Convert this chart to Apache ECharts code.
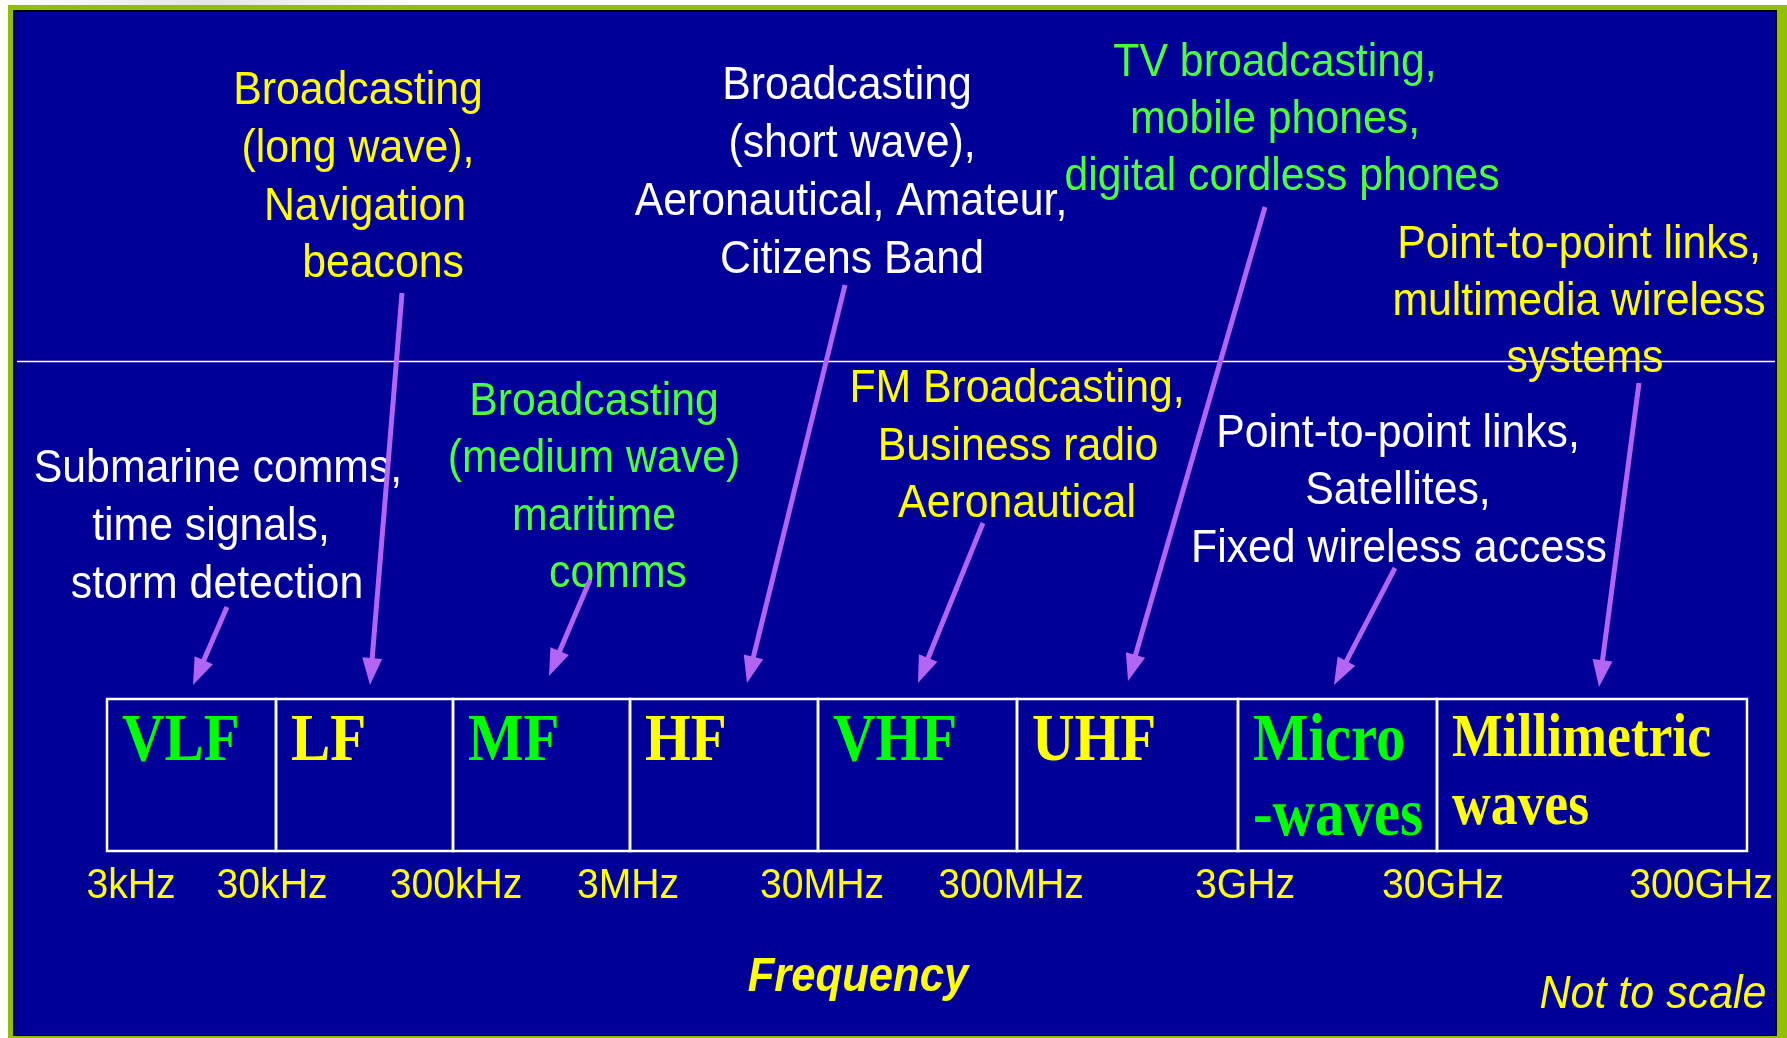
<!DOCTYPE html>
<html>
<head>
<meta charset="utf-8">
<title>Radio spectrum</title>
<style>
  html, body { margin: 0; padding: 0; background: #ffffff; }
  #chart { width: 1787px; height: 1038px; }
</style>
<script src="https://cdn.jsdelivr.net/npm/echarts@6/dist/echarts.min.js"></script>
</head>
<body>
<div id="chart"></div>
<script>
// ---- data (positions are in the slide's own units, not to scale) ----
const bandNames = ['VLF', 'LF', 'MF', 'HF', 'VHF', 'UHF', 'Micro\n-waves', 'Millimetric\nwaves'];
const bandEdges = [107, 276, 453, 630, 818, 1017, 1238, 1437, 1747];

const freqLabels = ['3kHz', '30kHz', '300kHz', '3MHz', '30MHz', '300MHz', '3GHz', '30GHz', '300GHz'];
const freqLabelX = [131, 272, 456, 628, 822, 1011, 1245, 1443, 1701];

// annotation lines: text, centre, baseline, colour group (w = white, y = yellow, g = green)
const noteText = [
    'Broadcasting', '(long wave),', 'Navigation', 'beacons',
    'Submarine comms,', 'time signals,', 'storm detection',
    'Broadcasting', '(medium wave)', 'maritime', 'comms',
    'Broadcasting', '(short wave),', 'Aeronautical, Amateur,', 'Citizens Band',
    'TV broadcasting,', 'mobile phones,', 'digital cordless phones',
    'Point-to-point links,', 'multimedia wireless', 'systems',
    'FM Broadcasting,', 'Business radio', 'Aeronautical',
    'Point-to-point links,', 'Satellites,', 'Fixed wireless access'
];
const noteX = [
    358, 358, 365, 383,
    218, 211, 217,
    594, 594, 594, 618,
    847, 852, 851, 852,
    1275, 1275, 1282,
    1579, 1579, 1585,
    1017, 1018, 1017,
    1398, 1398, 1399
];
const noteY = [
    104, 162, 220, 277,
    482, 540, 598,
    415, 472, 530, 587,
    99, 157, 215, 273,
    76, 133, 190,
    258, 315, 372,
    402, 460, 517,
    447, 504, 562
];
const noteGroup = [
    'y', 'y', 'y', 'y',
    'w', 'w', 'w',
    'g', 'g', 'g', 'g',
    'w', 'w', 'w', 'w',
    'g', 'g', 'g',
    'y', 'y', 'y',
    'y', 'y', 'y',
    'w', 'w', 'w'
];

// arrows from the notes down to the bands
const arrowFrom = [[227, 607], [402, 293], [590, 580], [845, 285], [983, 523], [1265, 207], [1395, 568], [1639, 383]];
const arrowTo = [[193, 685], [370, 685], [549, 676], [747, 683], [918, 683], [1128, 681], [1334, 685], [1599, 687]];

// ---- layout / style ----
const W = 1787, H = 1038;
const BAND_TOP = 699, BAND_BOTTOM = 851;
const TICK_BASE = 898;
const SANS = '"Liberation Sans", Arial, Helvetica, sans-serif';
const SERIF = '"Liberation Serif", "Times New Roman", serif';
const NARROW = 0.91;
const MID = 0.265;        // baseline -> middle offset (sans)
const MID_SERIF = 0.255;
const COLORS = { w: '#ffffff', y: '#ffff00', g: '#4cff3c' };
const BAND_GREEN = '#00ff00';
const ARROW = '#b264f2';

const chart = echarts.init(document.getElementById('chart'));

function bandItem(params, api) {
    const i = params.dataIndex;
    const p0 = api.coord([api.value(0), BAND_TOP]);
    const p1 = api.coord([api.value(1), BAND_BOTTOM]);
    const lines = bandNames[i].split('\n');
    const fs = lines[0].length > 8 ? 62 : 68;
    const first = p0[1] + 16 + 0.662 * fs;
    const children = [{
        type: 'rect',
        shape: { x: p0[0], y: p0[1], width: p1[0] - p0[0], height: p1[1] - p0[1] },
        style: { fill: 'none', stroke: '#ffffff', lineWidth: 2.5 }
    }];
    lines.forEach((t, k) => {
        children.push({
            type: 'text',
            x: p0[0] + 15,
            y: first + k * 1.1 * fs - MID_SERIF * fs,
            scaleX: 0.865,
            style: {
                text: t, x: 0, y: 0, align: 'left', verticalAlign: 'middle',
                fill: i % 2 === 0 ? BAND_GREEN : COLORS.y,
                fontFamily: SERIF, fontWeight: 'bold', fontSize: fs
            }
        });
    });
    return { type: 'group', children };
}

function tickItem(params, api) {
    const p = api.coord([api.value(0), api.value(1)]);
    const fs = 43;
    return {
        type: 'text', x: p[0], y: p[1] - MID * fs, scaleX: NARROW,
        style: {
            text: freqLabels[params.dataIndex], x: 0, y: 0,
            align: 'center', verticalAlign: 'middle',
            fill: COLORS.y, fontFamily: SANS, fontSize: fs
        }
    };
}

function noteItem(params, api) {
    const i = params.dataIndex;
    const p = api.coord([api.value(0), api.value(1)]);
    const fs = 47;
    return {
        type: 'text', x: p[0], y: p[1] - MID * fs, scaleX: NARROW,
        style: {
            text: noteText[i], x: 0, y: 0,
            align: 'center', verticalAlign: 'middle',
            fill: COLORS[noteGroup[i]], fontFamily: SANS, fontSize: fs
        }
    };
}

function arrowItem(params, api) {
    const a = api.coord([api.value(0), api.value(1)]);
    const b = api.coord([api.value(2), api.value(3)]);
    const dx = b[0] - a[0], dy = b[1] - a[1];
    const len = Math.sqrt(dx * dx + dy * dy);
    const ux = dx / len, uy = dy / len;
    const hl = 27, hw = 10;
    const bx = b[0] - ux * hl, by = b[1] - uy * hl;
    return {
        type: 'group',
        children: [{
            type: 'line',
            shape: { x1: a[0], y1: a[1], x2: bx + ux * 3, y2: by + uy * 3 },
            style: { stroke: ARROW, lineWidth: 5 }
        }, {
            type: 'polygon',
            shape: { points: [[b[0], b[1]], [bx - uy * hw, by + ux * hw], [bx + uy * hw, by - ux * hw]] },
            style: { fill: ARROW }
        }]
    };
}

const option = {
    animation: false,
    backgroundColor: '#ffffff',
    grid: { left: 0, right: 0, top: 0, bottom: 0, containLabel: false },
    xAxis: { type: 'value', min: 0, max: W, show: false },
    yAxis: { type: 'value', min: 0, max: H, inverse: true, show: false },
    graphic: [
        {
            type: 'rect', z: -10, silent: true,
            shape: { x: 0, y: 0, width: 420, height: 6 },
            style: {
                fill: new echarts.graphic.LinearGradient(0, 0, 1, 0, [
                    { offset: 0, color: '#ffffff' },
                    { offset: 0.5, color: '#e4e4e4' },
                    { offset: 1, color: '#ffffff' }
                ])
            }
        },
        { type: 'rect', z: -9, silent: true, shape: { x: 8, y: 5, width: W - 8, height: H - 5 }, style: { fill: '#92c000' } },
        { type: 'rect', z: -8, silent: true, shape: { x: 13, y: 10, width: 1764, height: 1026 }, style: { fill: '#000000' } },
        { type: 'rect', z: -7, silent: true, shape: { x: 15, y: 12, width: 1760, height: 1023 }, style: { fill: '#000099' } },
        { type: 'line', z: -6, silent: true, shape: { x1: 17, y1: 361.5, x2: 1775, y2: 361.5 }, style: { stroke: '#ffffff', lineWidth: 1.5 } },
        {
            type: 'text', x: 858, y: 990 - MID * 49, scaleX: 0.89,
            style: {
                text: 'Frequency', x: 0, y: 0, align: 'center', verticalAlign: 'middle',
                fill: COLORS.y, fontFamily: SANS, fontSize: 49, fontWeight: 'bold', fontStyle: 'italic'
            }
        },
        {
            type: 'text', x: 1653, y: 1007 - MID * 47, scaleX: 0.915,
            style: {
                text: 'Not to scale', x: 0, y: 0, align: 'center', verticalAlign: 'middle',
                fill: COLORS.y, fontFamily: SANS, fontSize: 47, fontStyle: 'italic'
            }
        }
    ],
    series: [
        {
            name: 'bands', type: 'custom', z: 3,
            renderItem: bandItem,
            data: bandNames.map((n, i) => [bandEdges[i], bandEdges[i + 1], i])
        },
        {
            name: 'frequency', type: 'custom', z: 3,
            renderItem: tickItem,
            data: freqLabels.map((t, i) => [freqLabelX[i], TICK_BASE])
        },
        {
            name: 'notes', type: 'custom', z: 4,
            renderItem: noteItem,
            data: noteText.map((t, i) => [noteX[i], noteY[i]])
        },
        {
            name: 'arrows', type: 'custom', z: 5,
            renderItem: arrowItem,
            data: arrowFrom.map((f, i) => [f[0], f[1], arrowTo[i][0], arrowTo[i][1]])
        }
    ]
};

chart.setOption(option);
</script>
</body>
</html>
